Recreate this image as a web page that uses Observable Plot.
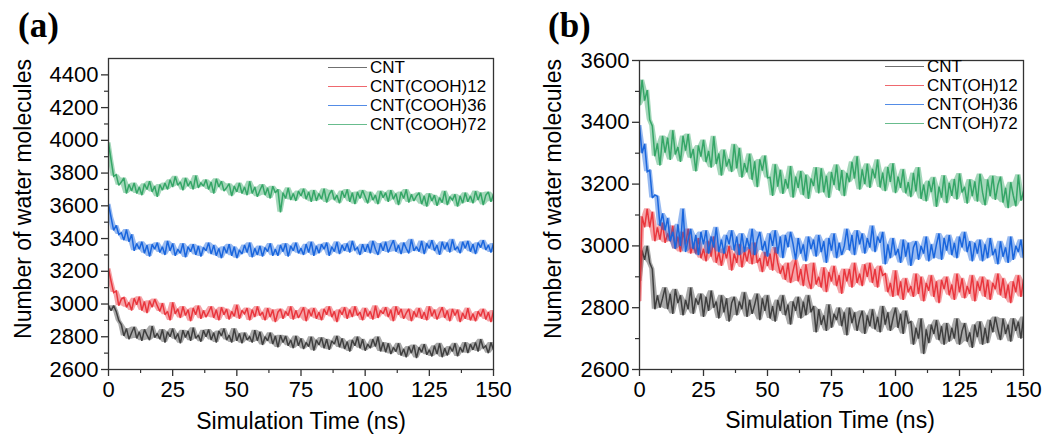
<!DOCTYPE html>
<html><head><meta charset="utf-8">
<script src="https://cdn.jsdelivr.net/npm/d3@7"></script>
<script src="https://cdn.jsdelivr.net/npm/@observablehq/plot@0.6"></script>
<style>
body{margin:0;background:#fff;}
#wrap{position:relative;width:1044px;height:439px;font-family:"Liberation Sans",Arial,sans-serif;color:#000;overflow:hidden;}
.panel{position:absolute;top:0;}
.tag{position:absolute;font-family:"Liberation Serif","Times New Roman",serif;font-weight:bold;font-size:35px;line-height:1;}
.ylab{position:absolute;font-size:23px;line-height:1;white-space:nowrap;transform:translate(-50%,-50%) rotate(-90deg);}
.xlab{position:absolute;font-size:23px;line-height:1;white-space:nowrap;transform:translate(-50%,-50%);}
.legend{position:absolute;font-size:17px;line-height:19px;}
.legend .row{display:flex;align-items:center;height:19px;white-space:nowrap;}
.legend .sw{display:inline-block;width:39px;height:0;border-top:1.2px solid;margin-right:3px;opacity:0.75;}
</style></head>
<body>
<div id="wrap"></div>
<script>
// ---------- data (1 ns sampling) ----------
const xTicks = [0, 25, 50, 75, 100, 125, 150];
const xMinor = [12.5, 37.5, 62.5, 87.5, 112.5, 137.5];
const yTicksA = [2600, 2800, 3000, 3200, 3400, 3600, 3800, 4000, 4200, 4400];
const yMinorA = [2700, 2900, 3100, 3300, 3500, 3700, 3900, 4100, 4300];
const yTicksB = [2600, 2800, 3000, 3200, 3400, 3600];
const yMinorB = [2700, 2900, 3100, 3300, 3500];

const seriesA = ["CNT", "CNT(COOH)12", "CNT(COOH)36", "CNT(COOH)72"];
const seriesB = ["CNT", "CNT(OH)12", "CNT(OH)36", "CNT(OH)72"];
const colors = ["#404040", "#e9363d", "#1a66dd", "#35a667"];

const cntA = [2990,2960,2990,2955,2900,2875,2805,2850,2785,2825,
2860,2790,2830,2775,2845,2810,2780,2865,2795,2820,
2785,2845,2765,2830,2800,2850,2785,2820,2760,2840,
2795,2835,2775,2855,2790,2810,2770,2840,2800,2845,
2780,2825,2765,2835,2805,2850,2780,2810,2765,2850,
2775,2820,2760,2825,2780,2800,2765,2840,2775,2830,
2750,2800,2775,2825,2755,2805,2735,2810,2765,2805,
2745,2780,2730,2805,2745,2790,2725,2765,2740,2800,
2715,2780,2750,2795,2730,2785,2720,2775,2755,2805,
2735,2790,2725,2770,2710,2780,2745,2800,2730,2785,
2715,2755,2730,2785,2740,2800,2710,2765,2705,2760,
2695,2735,2710,2760,2685,2725,2675,2740,2700,2750,
2670,2735,2705,2755,2690,2720,2680,2745,2695,2760,
2675,2730,2685,2740,2710,2760,2680,2735,2705,2765,
2700,2755,2720,2765,2710,2785,2730,2745,2700,2765,
2720];
const cooh12 = [3215,3140,3070,3080,2990,3030,3040,2980,3010,2960,
3035,2995,3045,2960,3015,2945,3020,2980,3030,2990,
2955,3005,2935,2955,2900,3010,2940,2970,2915,2985,
2930,2965,2895,2975,2935,2990,2910,2960,2920,2950,
2985,2915,2965,2900,2980,2935,2970,2905,2955,2925,
2995,2910,2960,2940,2975,2900,2965,2920,2985,2930,
2950,2900,2975,2920,2965,2890,2950,2970,2910,2955,
2930,2985,2905,2960,2915,2945,2980,2895,2965,2925,
2975,2910,2950,2900,2970,2935,2985,2920,2955,2890,
2965,2935,2980,2910,2965,2920,2985,2930,2950,2900,
2975,2925,2955,2905,2990,2915,2960,2940,2980,2920,
2965,2895,2985,2935,2970,2910,2945,2970,2895,2955,
2920,2975,2910,2950,2900,2985,2925,2965,2905,2945,
2980,2915,2960,2895,2970,2930,2965,2890,2945,2910,
2975,2900,2940,2895,2955,2925,2970,2905,2950,2890,
2960];
const cooh36 = [3610,3530,3450,3480,3425,3435,3390,3455,3380,3425,
3325,3370,3335,3380,3310,3360,3290,3365,3335,3375,
3315,3350,3300,3385,3325,3370,3295,3335,3310,3370,
3285,3350,3320,3365,3300,3355,3290,3345,3325,3375,
3305,3360,3295,3340,3280,3350,3310,3365,3295,3350,
3280,3330,3305,3360,3315,3375,3285,3340,3300,3355,
3290,3345,3320,3370,3295,3335,3295,3360,3320,3370,
3290,3355,3325,3375,3310,3340,3300,3365,3315,3380,
3295,3355,3310,3365,3335,3375,3295,3350,3320,3380,
3305,3360,3325,3370,3315,3385,3330,3345,3300,3365,
3320,3365,3310,3385,3335,3300,3370,3325,3380,3315,
3355,3390,3320,3360,3305,3375,3340,3310,3395,3325,
3350,3320,3385,3305,3370,3340,3390,3325,3360,3300,
3380,3335,3375,3315,3395,3330,3350,3310,3380,3340,
3385,3320,3365,3305,3375,3345,3390,3330,3360,3315,
3370];
const cooh72 = [3985,3880,3780,3790,3725,3745,3770,3675,3730,3690,
3740,3675,3715,3665,3735,3700,3750,3685,3720,3655,
3730,3695,3740,3700,3760,3715,3780,3725,3745,3695,
3770,3720,3750,3700,3785,3710,3740,3720,3760,3700,
3745,3675,3765,3715,3750,3690,3710,3735,3660,3720,
3685,3740,3675,3715,3665,3750,3675,3715,3655,3695,
3730,3665,3710,3645,3720,3680,3700,3560,3680,3645,
3710,3635,3675,3630,3690,3660,3705,3640,3685,3625,
3695,3630,3675,3640,3705,3620,3670,3695,3635,3665,
3615,3690,3650,3700,3625,3680,3610,3685,3645,3695,
3655,3615,3685,3635,3665,3610,3690,3650,3680,3625,
3695,3640,3675,3605,3685,3645,3700,3620,3670,3630,
3660,3680,3610,3660,3595,3675,3630,3665,3600,3650,
3620,3690,3605,3655,3635,3670,3595,3660,3615,3680,
3625,3660,3615,3690,3635,3680,3605,3665,3685,3625,
3670];

const cntB = [2885,2985,2955,3000,2945,2925,2795,2840,2800,2830,
2865,2795,2845,2780,2860,2815,2840,2775,2825,2795,
2865,2780,2830,2810,2845,2770,2835,2790,2855,2800,
2820,2765,2840,2785,2830,2755,2815,2835,2775,2820,
2795,2850,2770,2825,2780,2810,2845,2760,2830,2790,
2840,2765,2805,2755,2825,2790,2840,2775,2810,2745,
2820,2790,2835,2765,2820,2775,2840,2785,2805,2720,
2795,2745,2775,2725,2810,2735,2780,2760,2800,2740,
2785,2710,2800,2750,2785,2725,2765,2790,2715,2775,
2740,2795,2730,2770,2720,2805,2745,2785,2725,2765,
2800,2735,2780,2715,2790,2750,2755,2680,2735,2700,
2765,2650,2730,2685,2745,2715,2760,2695,2740,2680,
2750,2690,2735,2700,2765,2680,2725,2750,2690,2720,
2670,2745,2705,2755,2680,2735,2685,2760,2720,2770,
2730,2695,2765,2715,2745,2690,2765,2725,2755,2700,
2770];
const oh12 = [2820,3095,3060,3120,3060,3110,3015,3060,3020,3075,
3010,3040,3015,3065,2990,3030,2980,3045,3005,3055,
2975,3005,2975,3025,2960,2990,2950,3015,2965,3030,
2945,2980,2935,2990,2960,3000,2920,2975,2945,3005,
2930,2985,2950,2995,2940,3010,2945,2960,2915,2980,
2935,2975,2920,2995,2945,2910,2935,2890,2945,2880,
2920,2955,2885,2925,2870,2940,2890,2860,2945,2875,
2900,2865,2930,2850,2915,2885,2935,2870,2905,2845,
2925,2885,2925,2865,2945,2880,2910,2870,2940,2900,
2945,2880,2925,2865,2935,2905,2910,2850,2880,2835,
2920,2840,2885,2825,2895,2850,2870,2835,2910,2845,
2900,2820,2880,2855,2905,2835,2885,2815,2890,2860,
2900,2840,2875,2825,2910,2850,2895,2830,2870,2845,
2905,2820,2885,2855,2900,2835,2890,2825,2880,2860,
2910,2840,2895,2830,2875,2815,2885,2850,2905,2835,
2890];
const oh36 = [3390,3300,3330,3240,3245,3155,3165,3160,3065,3105,
3050,3090,3015,3045,2990,3070,3000,3120,2980,3020,
3055,2990,3035,2970,3045,3005,3050,2975,3030,2995,
3060,2980,3020,2975,3035,3005,3050,2985,3030,2970,
3040,2980,3025,2990,3055,2970,3020,3045,2985,3015,
2965,3040,3000,3050,2975,3030,2960,3035,2995,3045,
3005,2955,3025,2975,3005,2950,3030,2990,3020,2965,
3035,2980,3015,2945,3025,2985,3040,2960,3010,2970,
3000,3055,2985,3035,2970,3050,3005,3040,2975,3025,
2995,3065,2980,3030,3010,3045,2940,3005,2960,3025,
2970,2990,2945,3020,2965,3010,2935,2995,3015,2955,
3000,2975,3030,2950,3005,2960,3005,3040,2955,3025,
2985,3035,2970,3010,2960,3030,2995,3045,2980,3015,
2950,3010,2975,3020,2950,3005,2960,3025,2970,2990,
2940,3015,2965,2995,2945,3030,2955,3000,2980,3020,
2960];
const oh72 = [3454,3537,3470,3504,3408,3388,3290,3332,3260,3356,
3302,3350,3278,3374,3296,3320,3272,3356,3308,3362,
3284,3313,3241,3325,3289,3343,3271,3307,3253,3355,
3265,3299,3227,3311,3257,3281,3239,3329,3251,3317,
3221,3268,3238,3298,3214,3274,3190,3280,3244,3292,
3220,3222,3162,3264,3192,3246,3168,3216,3186,3258,
3156,3224,3188,3242,3164,3230,3152,3218,3194,3254,
3170,3251,3173,3227,3155,3239,3197,3263,3179,3245,
3161,3236,3206,3272,3218,3290,3182,3248,3200,3266,
3188,3249,3219,3279,3189,3237,3177,3255,3207,3267,
3171,3224,3188,3248,3170,3206,3158,3236,3176,3254,
3152,3198,3144,3210,3174,3222,3126,3192,3156,3228,
3138,3204,3162,3216,3150,3234,3173,3191,3137,3215,
3161,3209,3143,3233,3173,3131,3215,3161,3227,3149,
3197,3224,3140,3188,3122,3206,3164,3128,3230,3146,
3176];

// ---------- build ----------
const timeNs = cntA.map((_, i) => i); // sample index = time in ns
function rows(names, arrays) {
  return names.flatMap((n, k) => arrays[k].map((v, i) => ({t: timeNs[i], v, s: n})));
}
const font = '"Liberation Sans", Arial, sans-serif';
const axisColor = "#333";

function panel({data, names, yDomain, yTicks, yMinor, width, marginLeft, marginRight, marginTop}) {
  const marks = [];
  // each series: local min/max envelope of its own samples (dense noise band) + the trace on top
  names.forEach(n => {
    const d = data.filter(r => r.s === n);
    marks.push(Plot.areaY(d, Plot.map(
      {y1: Plot.window({k: 3, reduce: "min"}), y2: Plot.window({k: 3, reduce: "max"})},
      {x: "t", y1: "v", y2: "v", fill: "s", fillOpacity: 0.45, clip: true})));
    marks.push(Plot.lineY(d, {x: "t", y: "v", stroke: "s", strokeWidth: 1.5, strokeLinejoin: "miter", strokeMiterlimit: 2, clip: true}));
  });
  return Plot.plot({
    width, height: 439,
    marginLeft, marginRight, marginTop, marginBottom: 70,
    style: {fontFamily: font, fontSize: "22px", color: "#000", background: "transparent", overflow: "visible"},
    x: {domain: [0, 150], label: null},
    y: {domain: yDomain, label: null},
    color: {domain: names, range: colors},
    marks: [
      ...marks,
      Plot.frame({stroke: axisColor, strokeWidth: 1.3}),
      Plot.axisX(xTicks, {tickSize: 7, tickPadding: 5, stroke: axisColor, strokeWidth: 1.3, fill: "#000", fontSize: 22, label: null, tickFormat: d => String(d)}),
      Plot.axisX(xMinor, {tickSize: 4, stroke: axisColor, strokeWidth: 1.2, fill: "none", label: null}),
      Plot.axisY(yTicks, {tickSize: 7, tickPadding: 3, stroke: axisColor, strokeWidth: 1.3, fill: "#000", fontSize: 22, label: null, tickFormat: d => String(d)}),
      Plot.axisY(yMinor, {tickSize: 4, stroke: axisColor, strokeWidth: 1.2, fill: "none", label: null})
    ]
  });
}

const wrap = document.getElementById("wrap");

const pa = panel({data: rows(seriesA, [cntA, cooh12, cooh36, cooh72]), names: seriesA,
  yDomain: [2600, 4500], yTicks: yTicksA, yMinor: yMinorA, width: 520, marginLeft: 108, marginRight: 27, marginTop: 58});
pa.classList.add("panel"); pa.style.left = "0px";
wrap.appendChild(pa);

const pb = panel({data: rows(seriesB, [cntB, oh12, oh36, oh72]), names: seriesB,
  yDomain: [2600, 3600], yTicks: yTicksB, yMinor: yMinorB, width: 524, marginLeft: 119, marginRight: 21, marginTop: 60});
pb.classList.add("panel"); pb.style.left = "520px";
wrap.appendChild(pb);

function addDiv(cls, text, css) {
  const d = document.createElement("div");
  d.className = cls; d.textContent = text; Object.assign(d.style, css);
  wrap.appendChild(d); return d;
}
addDiv("tag", "(a)", {left: "18px", top: "8px"});
addDiv("tag", "(b)", {left: "548px", top: "8px"});
addDiv("ylab", "Number of water molecules", {left: "23px", top: "199px"});
addDiv("ylab", "Number of water molecules", {left: "553px", top: "199px"});
addDiv("xlab", "Simulation Time (ns)", {left: "301px", top: "421px"});
addDiv("xlab", "Simulation Time (ns)", {left: "830px", top: "420px"});

function legend(names, left, top) {
  const lg = document.createElement("div");
  lg.className = "legend"; lg.style.left = left + "px"; lg.style.top = top + "px";
  names.forEach((n, k) => {
    const r = document.createElement("div"); r.className = "row";
    const sw = document.createElement("span"); sw.className = "sw"; sw.style.borderTopColor = colors[k];
    const tx = document.createElement("span"); tx.textContent = n;
    r.appendChild(sw); r.appendChild(tx); lg.appendChild(r);
  });
  wrap.appendChild(lg);
}
legend(seriesA, 328, 58);
legend(seriesB, 885, 57);
</script>
</body></html>
